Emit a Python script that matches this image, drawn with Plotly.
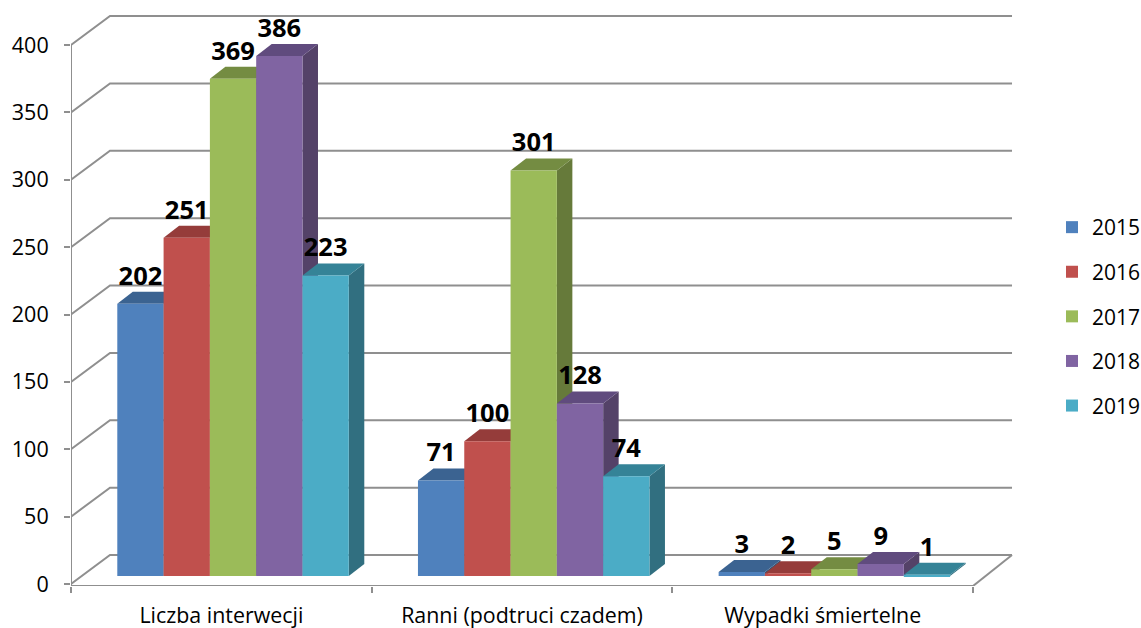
import plotly.graph_objects as go

categories = ["Liczba interwecji", "Ranni (podtruci czadem)", "Wypadki śmiertelne"]
years = ["2015", "2016", "2017", "2018", "2019"]
values_2015 = [202, 71, 3]
values_2016 = [251, 100, 2]
values_2017 = [369, 301, 5]
values_2018 = [386, 128, 9]
values_2019 = [223, 74, 1]
y_ticks = [0, 50, 100, 150, 200, 250, 300, 350, 400]

series = [values_2015, values_2016, values_2017, values_2018, values_2019]
front = ["#4F81BD", "#C0504D", "#9BBB59", "#8064A2", "#4BACC6"]
top = ["#3B6391", "#953C3A", "#748C42", "#604B7E", "#358397"]
side = ["#335577", "#7D3331", "#667A3A", "#544268", "#316F80"]
GRID = "#8F8F8F"

W, H = 1141, 628
# plot frame in window px: x 71..1014, y 15..586. One category = 300.67 px, one unit = 1.3475 px
L, R, T, B = 71, 1014, 15, 586
PX_X, PX_Y = 300.67, 1.3475
ZERO_PX = 584
xr = [0, (R - L) / PX_X]
yr = [(ZERO_PX - B) / PX_Y, (ZERO_PX - T) / PX_Y]

wall_dx, wall_dy = 39 / PX_X, 29 / PX_Y
bar_dx, bar_dy = 15.5 / PX_X, 12 / PX_Y
bar_w = 46.3 / PX_X
bar_base = 5.9
shift = 11.7 / PX_X
centers = [i + 0.5 + shift for i in range(len(categories))]

fig = go.Figure()


def line(xs, ys):
    fig.add_trace(go.Scatter(x=xs, y=ys, mode="lines", showlegend=False, hoverinfo="skip",
                             cliponaxis=False, line=dict(color=GRID, width=2)))


# walls
for t in y_ticks:
    line([0, wall_dx, len(categories) + wall_dx], [t, t + wall_dy, t + wall_dy])
line([0, 0], [yr[0], y_ticks[-1]])
line([0, len(categories)], [yr[0], yr[0]])
line([len(categories), len(categories) + wall_dx], [yr[0], y_ticks[0] + wall_dy])


def poly(xs, ys, color):
    fig.add_trace(go.Scatter(x=xs, y=ys, mode="lines", fill="toself", fillcolor=color,
                             line=dict(width=0, color=color), showlegend=False, hoverinfo="skip"))


# depth faces, painted left to right
for c, cx in enumerate(centers):
    for j, vals in enumerate(series):
        x0 = cx + (j - 2.5) * bar_w
        x1 = x0 + bar_w
        tv = vals[c] + bar_base
        poly([x1, x1 + bar_dx, x1 + bar_dx, x1, x1],
             [bar_base, bar_base + bar_dy, tv + bar_dy, tv, bar_base], side[j])
        poly([x0, x1, x1 + bar_dx, x0 + bar_dx, x0],
             [tv, tv, tv + bar_dy, tv + bar_dy, tv], top[j])

# front faces
for j, vals in enumerate(series):
    fig.add_trace(go.Bar(x=centers, y=vals, base=[bar_base] * len(vals), name=years[j],
                         marker=dict(color=front[j], line=dict(width=0)),
                         legendgroup=years[j], xaxis="x2", yaxis="y2"))

# data labels
for j, vals in enumerate(series):
    fig.add_trace(go.Scatter(x=[cx + (j - 2) * bar_w for cx in centers],
                             y=[v + bar_base + 9.5 for v in vals],
                             mode="text", text=[str(v) for v in vals], textposition="top center",
                             textfont=dict(family="Open Sans", size=25.5, color="#000000", weight="bold"),
                             showlegend=False, hoverinfo="skip", cliponaxis=False,
                             xaxis="x2", yaxis="y2"))

fig.update_layout(
    width=W, height=H, autosize=False, paper_bgcolor="white", plot_bgcolor="rgba(0,0,0,0)",
    margin=dict(l=L, r=W - R, t=T, b=H - B, pad=0, autoexpand=False),
    font=dict(family="Open Sans", size=21, color="#000000"),
    barmode="group", bargap=1 - 5 * bar_w, bargroupgap=0,
    xaxis=dict(range=xr, showgrid=False, zeroline=False, showline=False,
               tickmode="array", tickvals=[i + 0.5 for i in range(len(categories))],
               ticktext=categories, ticks="", tickfont=dict(size=21.4), ticklabelstandoff=15,
               minor=dict(tickmode="array", tickvals=list(range(len(categories) + 1)),
                          ticks="outside", ticklen=6, tickwidth=2, tickcolor=GRID, showgrid=False)),
    yaxis=dict(range=yr, showgrid=False, zeroline=False, showline=False,
               tickmode="array", tickvals=y_ticks, ticks="outside", ticklen=6,
               tickwidth=2, tickcolor=GRID, tickfont=dict(size=21.5), ticklabelstandoff=11),
    xaxis2=dict(range=xr, overlaying="x", visible=False),
    yaxis2=dict(range=yr, overlaying="y", visible=False),
    legend=dict(x=(1052 - L) / (R - L), xanchor="left", y=1 - (207 - T) / (B - T), yanchor="top",
                tracegroupgap=14.3, font=dict(size=21), bgcolor="rgba(0,0,0,0)",
                traceorder="grouped"),
)

# The figure fills the window exactly, so the page's default margin is removed.
fig.write_html("out.html", config={"displayModeBar": False},
               post_script="document.body.style.margin='0';")
